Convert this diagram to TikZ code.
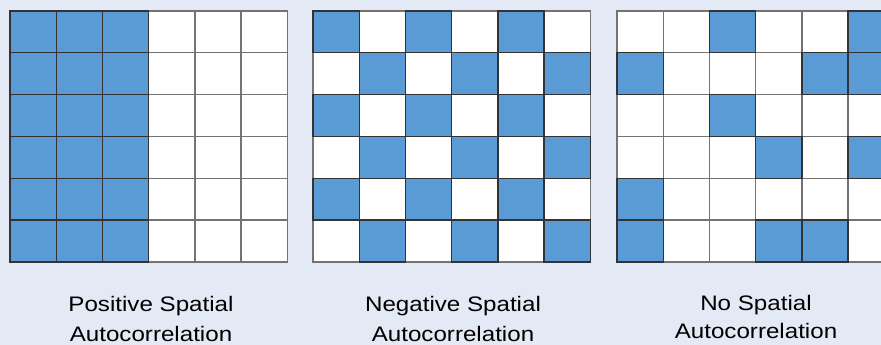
\documentclass[tikz,border=0pt]{standalone}
\usepackage{fontspec}
\setmainfont{Liberation Sans}
\newfontfamily\didafont[FakeStretch=1.15]{Liberation Sans}
\definecolor{sfondo}{HTML}{E4E9F6}
\definecolor{pieno}{HTML}{5B9BD5}
\tikzset{
    vuota/.style={fill=white, draw=black!55, line width=1.4pt},
    piena/.style={fill=pieno, draw=black!80, line width=1.4pt},
    dida/.style={align=center, anchor=base, font=\didafont\fontsize{21}{30}\selectfont},
    didastretta/.style={dida, font=\didafont\fontsize{21}{28}\selectfont}
}
\begin{document}
\begin{tikzpicture}[x=1pt,y=-1pt]
        % sfondo
            \fill[sfondo] (0,0) rectangle (881,345);
            \clip (0,0) rectangle (881,345);
        % griglie vuote
            \foreach \x in {10,313,617}
                \foreach \c in {0,...,5}
                    \foreach \r in {0,...,5}
                        \draw[vuota] (\x+\c*46.2,11+\r*41.8) rectangle +(46.2,41.8);
        % autocorrelazione positiva
            \foreach \c in {0,1,2}
                \foreach \r in {0,...,5}
                    \draw[piena] (10+\c*46.2,11+\r*41.8) rectangle +(46.2,41.8);
        % autocorrelazione negativa
            \foreach \c in {0,...,5}
                \foreach \r in {0,...,5}{
                    \pgfmathtruncatemacro\p{mod(\c+\r,2)}
                    \ifnum\p=0 \draw[piena] (313+\c*46.2,11+\r*41.8) rectangle +(46.2,41.8); \fi
                }
        % nessuna autocorrelazione
            \foreach \c/\r in {2/0,5/0,0/1,4/1,5/1,2/2,3/3,5/3,0/4,0/5,3/5,4/5}
                \draw[piena] (617+\c*46.2,11+\r*41.8) rectangle +(46.2,41.8);
        % didascalie
            \node[dida] (positiva) at (151,341) {Positive Spatial\\Autocorrelation};
            \node[dida] (negativa) at (453,341) {Negative Spatial\\Autocorrelation};
            \node[didastretta] (nessuna) at (756,338) {No Spatial\\Autocorrelation};
        \end{tikzpicture}
\end{document}
